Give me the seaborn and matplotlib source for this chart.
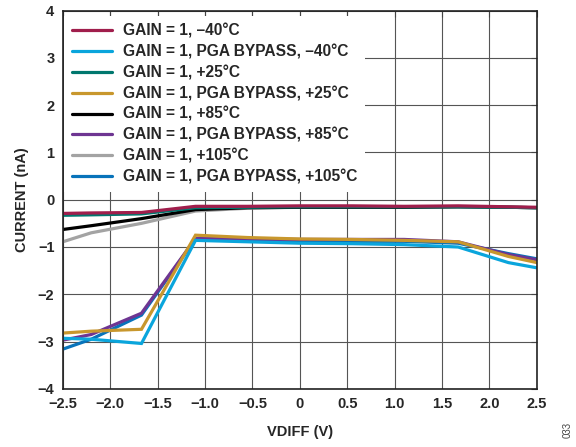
import matplotlib
matplotlib.use("Agg")
import matplotlib.pyplot as plt
import seaborn as sns
import pandas as pd
import numpy as np

vdiff = [-2.5, -2.2, -1.67, -1.1, -0.55, 0.0, 0.55, 1.1, 1.67, 2.2, 2.5]

gain_m40 = [-0.29, -0.28, -0.27, -0.14, -0.14, -0.13, -0.13, -0.14, -0.13, -0.15, -0.16]
pga_m40 = [-2.93, -2.95, -3.04, -0.86, -0.89, -0.92, -0.93, -0.95, -1.00, -1.33, -1.44]
gain_25 = [-0.33, -0.32, -0.30, -0.17, -0.16, -0.15, -0.15, -0.15, -0.15, -0.16, -0.17]
pga_25 = [-2.82, -2.78, -2.74, -0.75, -0.80, -0.83, -0.84, -0.86, -0.89, -1.20, -1.33]
gain_85 = [-0.63, -0.55, -0.40, -0.21, -0.17, -0.16, -0.16, -0.16, -0.15, -0.16, -0.17]
pga_85 = [-2.97, -2.85, -2.40, -0.82, -0.83, -0.84, -0.84, -0.84, -0.89, -1.16, -1.27]
gain_105 = [-0.89, -0.70, -0.50, -0.24, -0.18, -0.16, -0.16, -0.16, -0.15, -0.16, -0.17]
pga_105 = [-3.16, -2.95, -2.44, -0.83, -0.86, -0.88, -0.88, -0.88, -0.92, -1.14, -1.25]

labels = [
    "GAIN = 1, \u201340°C",
    "GAIN = 1, PGA BYPASS, \u201340°C",
    "GAIN = 1, +25°C",
    "GAIN = 1, PGA BYPASS, +25°C",
    "GAIN = 1, +85°C",
    "GAIN = 1, PGA BYPASS, +85°C",
    "GAIN = 1, +105°C",
    "GAIN = 1, PGA BYPASS, +105°C",
]
series = [gain_m40, pga_m40, gain_25, pga_25, gain_85, pga_85, gain_105, pga_105]
colors = ["#A01E4C", "#0AA5DC", "#00776E", "#C8972D", "#000000", "#6E3592", "#A3A3A3", "#0873BA"]

rows = []
for lab, vals in zip(labels, series):
    for x, y in zip(vdiff, vals):
        rows.append({"VDIFF": x, "CURRENT": y, "series": lab})
df = pd.DataFrame(rows)

sns.set_style("white")
plt.rcParams["font.family"] = ["Liberation Sans", "DejaVu Sans"]
plt.rcParams["axes.unicode_minus"] = True

fig = plt.figure(figsize=(5.76, 4.47), dpi=100)
ax = fig.add_axes([0.109, 0.130, 0.823, 0.8465])

handles = {}
for lab, col in reversed(list(zip(labels, colors))):
    sub = df[df["series"] == lab]
    sns.lineplot(data=sub, x="VDIFF", y="CURRENT", color=col, lw=2.3, ax=ax,
                 label=lab, legend=False, solid_joinstyle="miter")
    handles[lab] = ax.lines[-1]

ax.set_xlim(-2.5, 2.5)
ax.set_ylim(-4, 4)
ax.set_xticks(np.arange(-2.5, 2.51, 0.5))
ax.set_yticks(np.arange(-4, 4.1, 1))
ax.set_xticklabels(["\u22122.5", "\u22122.0", "\u22121.5", "\u22121.0", "\u22120.5", "0",
                    "0.5", "1.0", "1.5", "2.0", "2.5"])
ax.set_yticklabels(["\u22124", "\u22123", "\u22122", "\u22121", "0", "1", "2", "3", "4"])
ax.grid(True, color="#555555", lw=0.8)
ax.set_axisbelow(True)
for s in ax.spines.values():
    s.set_color("#222222")
    s.set_linewidth(1.2)
ax.tick_params(axis="both", direction="in", length=4, width=0.8, color="#444444",
               top=True, right=True, labelsize=10.5, pad=6)
for t in ax.get_xticklabels() + ax.get_yticklabels():
    t.set_fontweight("bold")
ax.set_xlabel("VDIFF (V)", fontsize=10.5, fontweight="bold", labelpad=10)
ax.set_ylabel("CURRENT (nA)", fontsize=10.5, fontweight="bold", labelpad=6)

leg = ax.legend([handles[l] for l in labels], labels, loc="upper left",
                bbox_to_anchor=(0.0, 0.99),
                frameon=True, fancybox=False, framealpha=1, facecolor="white",
                edgecolor="none", handlelength=2.57, labelspacing=0.37,
                handletextpad=0.69, borderaxespad=0.1, borderpad=0.5,
                prop={"weight": "bold", "size": 11.2})
leg.set_zorder(5)

fig.text(0.985, 0.02, "033", rotation=90, fontsize=7, color="#444444",
         ha="center", va="bottom")

fig.savefig("out.png", dpi=100)
